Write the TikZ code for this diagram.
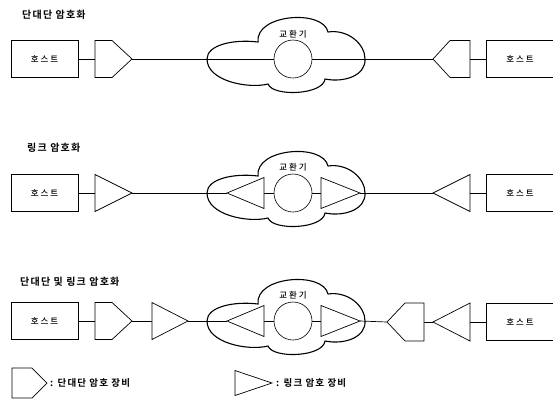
\documentclass[tikz,border=0pt]{standalone}
\usepackage{fontspec}
\newfontfamily\krs[LetterSpace=12,UprightFont=* Bold]{Noto Sans CJK KR}
\newfontfamily\krw[LetterSpace=22,UprightFont=* Medium]{Noto Sans CJK KR}
\begin{document}
\begin{tikzpicture}[x=1pt,y=-1pt,
  line/.style={line width=0.7pt},
  hostbox/.style={draw,line width=0.8pt,minimum width=67pt,minimum height=37pt,inner sep=0pt,font=\krw\fontsize{8.5}{10}\selectfont},
  switchc/.style={draw,circle,line width=0.6pt,minimum size=38pt,inner sep=0pt},
  title/.style={anchor=west,inner sep=0pt,font=\krs\fontsize{10}{12}\selectfont},
  swlabel/.style={inner sep=0pt,font=\krw\fontsize{8.5}{10}\selectfont},
  legtext/.style={anchor=west,inner sep=0pt,font=\krs\fontsize{9.5}{11}\selectfont},
  pics/triR/.style 2 args={code={
    \draw[line] (0,-#2) -- (#1,0) -- (0,#2) -- cycle;
    \coordinate (-w) at (0,0); \coordinate (-e) at (#1,0);}},
  pics/triL/.style 2 args={code={
    \draw[line] (0,0) -- (#1,-#2) -- (#1,#2) -- cycle;
    \coordinate (-w) at (0,0); \coordinate (-e) at (#1,0);}},
  pics/pentR/.style n args={3}{code={
    \draw[line] (0,-#3) -- (#2,-#3) -- (#1,0) -- (#2,#3) -- (0,#3) -- cycle;
    \coordinate (-w) at (0,0); \coordinate (-e) at (#1,0);}},
  pics/pentL/.style n args={3}{code={
    \draw[line] (0,0) -- (#1-#2,-#3) -- (#1,-#3) -- (#1,#3) -- (#1-#2,#3) -- cycle;
    \coordinate (-w) at (0,0); \coordinate (-e) at (#1,0);}},
  pics/cloud/.style={code={
    \draw[line width=1.1pt] (-86,0) .. controls (-86,-14) and (-60,-20) .. (-35,-17)
      .. controls (-38,-45) and (30,-50) .. (35,-27)
      .. controls (55,-30) and (72,-15) .. (72,0)
      .. controls (73,16) and (52,24) .. (32,20)
      .. controls (30,36) and (-20,38) .. (-25,25)
      .. controls (-45,30) and (-86,22) .. (-86,0) -- cycle;}}
]
\useasboundingbox (0,0) rectangle (553,400);

% ---------- Row 1: end-to-end ----------
\node[title] (t1) at (22,15) {단대단 암호화};
\node[hostbox] (H1L) at (44.5,59) {호스트};
\pic (P1L) at (95,59) {pentR={37}{17}{18.5}};
\pic at (293,59) {cloud};
\node[switchc] (S1) at (293,59) {};
\node[swlabel] (L1) at (293,34) {교환기};
\pic (P1R) at (433,59) {pentL={37}{20}{18.5}};
\node[hostbox] (H1R) at (520,59) {호스트};
\draw[line] (H1L.east) -- (P1L-w);
\draw[line] (P1L-e) -- (S1.west);
\draw[line] (S1.east) -- (P1R-w);
\draw[line] (P1R-e) -- (H1R.west);

% ---------- Row 2: link ----------
\node[title] (t2) at (27,148) {링크 암호화};
\node[hostbox] (H2L) at (44.5,193) {호스트};
\pic (T2L) at (95,193) {triR={37}{18.5}};
\pic at (293,193) {cloud};
\node[switchc] (S2) at (293,193) {};
\node[swlabel] (L2) at (293,167) {교환기};
\pic (I2L) at (227,193) {triL={37}{15.5}};
\pic (I2R) at (321,193) {triR={39}{15.5}};
\pic (T2R) at (433,193) {triL={37}{18.5}};
\node[hostbox] (H2R) at (520,193) {호스트};
\draw[line] (H2L.east) -- (T2L-w);
\draw[line] (T2L-e) -- (I2L-w);
\draw[line] (I2L-e) -- (S2.west);
\draw[line] (S2.east) -- (I2R-w);
\draw[line] (I2R-e) -- (T2R-w);
\draw[line] (T2R-e) -- (H2R.west);

% ---------- Row 3: both ----------
\node[title] (t3) at (20,282) {단대단 및 링크 암호화};
\node[hostbox] (H3L) at (44.5,321) {호스트};
\pic (P3L) at (95,321) {pentR={37}{17}{18.5}};
\pic (T3L) at (152,321) {triR={36}{18.5}};
\pic at (293,321) {cloud};
\node[switchc] (S3) at (293,321) {};
\node[swlabel] (L3) at (293,295) {교환기};
\pic (I3L) at (227,321) {triL={37}{15.5}};
\pic (I3R) at (321,321) {triR={39}{15.5}};
\pic (P3R) at (387,322) {pentL={37}{19}{19}};
\pic (T3R) at (433,322) {triL={37}{19}};
\node[hostbox] (H3R) at (520,322) {호스트};
\draw[line] (H3L.east) -- (P3L-w);
\draw[line] (P3L-e) -- (T3L-w);
\draw[line] (T3L-e) -- (I3L-w);
\draw[line] (I3L-e) -- (S3.west);
\draw[line] (S3.east) -- (I3R-w);
\draw[line] (I3R-e) -- (P3R-w);
\draw[line] (P3R-e) -- (T3R-w);
\draw[line] (T3R-e) -- (H3R.west);

% ---------- Legend ----------
\pic (LP) at (12,383) {pentR={35}{20}{15}};
\node[legtext] (LPt) at (50,383) {: 단대단 암호 장비};
\pic (LT) at (235,383) {triR={37}{12.5}};
\node[legtext] (LTt) at (276,383) {: 링크 암호 장비};
\end{tikzpicture}
\end{document}
